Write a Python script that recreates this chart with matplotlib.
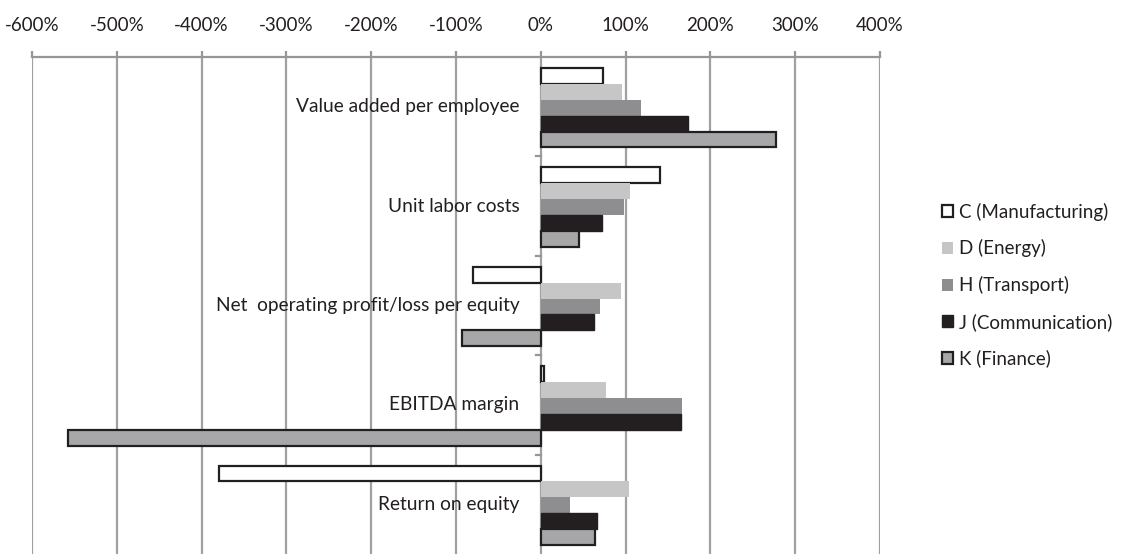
import matplotlib.pyplot as plt
from matplotlib.ticker import FuncFormatter
import numpy as np

plt.rcParams['font.family'] = ['Lato', 'DejaVu Sans']

categories = ["Value added per employee", "Unit labor costs",
              "Net  operating profit/loss per equity", "EBITDA margin",
              "Return on equity"]
series = ["C (Manufacturing)", "D (Energy)", "H (Transport)",
          "J (Communication)", "K (Finance)"]
C = [73, 140, -80, 4, -379]
D = [96, 105, 95, 77, 104]
H = [118, 98, 70, 167, 35]
J = [174, 72, 63, 165, 66]
K = [277, 45, -93, -558, 64]
values = [C, D, H, J, K]

faces = ["white", "#c6c6c6", "#8e8e90", "#231f20", "#a7a7a9"]
edges = ["#231f20", "none", "none", "#231f20", "#231f20"]
lws = [1.6, 0, 0, 1.0, 1.6]

fig = plt.figure(figsize=(11.24, 5.54), dpi=100)
ax = fig.add_axes([32/1124, 0.0, (880-32)/1124, 1-57/554])

y = np.arange(len(categories))
h = 0.16
for i, (vals, s) in enumerate(zip(values, series)):
    ax.barh(y - 0.31 + h*i, vals, height=h, color=faces[i], edgecolor=edges[i],
            linewidth=lws[i], label=s, zorder=3)

ax.set_xlim(-600, 400)
ax.set_ylim(len(categories) - 0.5, -0.5)
ax.set_xticks(np.arange(-600, 401, 100))
ax.xaxis.set_major_formatter(FuncFormatter(lambda v, p: f"{int(v)}%"))
ax.xaxis.tick_top()
ax.tick_params(axis='x', direction='out', length=4.3, width=1.6, color='#969696',
               pad=12, labelsize=13.5, labelcolor='#231f20')
ax.grid(axis='x', color='#a0a0a0', linewidth=1.6, zorder=0)
for sp in ['left', 'right', 'bottom']:
    ax.spines[sp].set_visible(False)
ax.spines['top'].set_color('#969696')
ax.spines['top'].set_linewidth(1.6)
ax.set_yticks([])

# category separators on the zero axis
for b in np.arange(0.5, len(categories) - 0.5, 1):
    ax.plot([-6, 0], [b, b], color='#969696', lw=1.6, zorder=2, clip_on=False)

for yi, c in zip(y, categories):
    ax.text(-25, yi, c, ha='right', va='center', fontsize=13.8,
            color='#231f20', zorder=4)

leg = fig.legend(loc='center left', bbox_to_anchor=(925/1124, 1-285/554),
                 frameon=False, fontsize=13.5, handlelength=0.6,
                 handleheight=0.6, handletextpad=0.3, labelspacing=1.0)
for t in leg.get_texts():
    t.set_color('#231f20')

fig.savefig("out.png", dpi=100)
